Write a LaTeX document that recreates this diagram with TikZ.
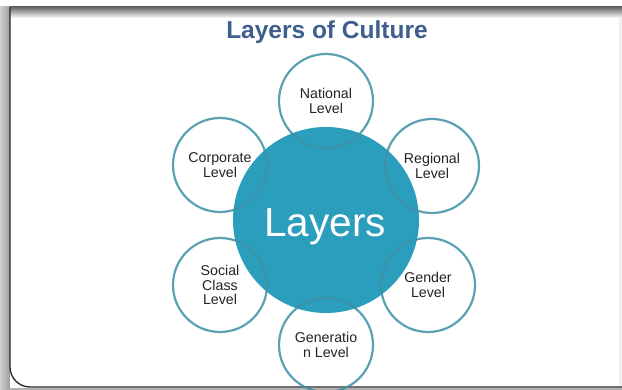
\documentclass[tikz,border=0pt]{standalone}
\usepackage{fontspec}
\setmainfont{Liberation Sans}
\definecolor{titleblue}{RGB}{62,95,142}
\definecolor{corefill}{RGB}{44,158,189}
\definecolor{ringline}{RGB}{62,145,166}
\definecolor{txtgray}{RGB}{35,35,35}
\begin{document}
\begin{tikzpicture}[x=1pt,y=-1pt,
  bubble/.style={circle, draw=ringline, draw opacity=0.85, line width=2.2pt,
    minimum size=94pt, inner sep=0pt, align=center, text=txtgray,
    font=\fontsize{14.2}{14.6}\selectfont},
  core/.style={circle, fill=corefill, minimum size=186pt, inner sep=0pt},
  frameline/.style={line width=1.3pt, black!85}]
\useasboundingbox (0,0) rectangle (622,390);
\fill[white] (0,0) rectangle (622,390);
% slide frame and its shadows
\shade[left color=black!18, right color=black!38] (0,7) rectangle (9.5,390);
\fill[black!30] (9,388) rectangle (622,390);
\shade[top color=black!60, bottom color=white] (10,7) rectangle (622,18);
\fill[black!6] (619,18) rectangle (622,387);
\draw[frameline, rounded corners=20pt] (10,7) -- (10,387) -- (622,387);
% heading
\node[anchor=base, text=titleblue, font=\bfseries\fontsize{24.5}{28}\selectfont]
  (title) at (327,38.5) {Layers of Culture};
% central disc
\node[core] (core) at (326,220) {};
\node[anchor=base, text=white, font=\fontsize{40.5}{44}\selectfont]
  (corelabel) at (325,237) {Layers};
% surrounding levels
\node[bubble] (national)   at (326,101) {National\\Level};
\node[bubble] (corporate)  at (220,165) {Corporate\\Level};
\node[bubble] (regional)   at (432,166) {Regional\\Level};
\node[bubble] (social)     at (220,285) {Social\\Class\\Level};
\node[bubble] (gender)     at (428,285) {Gender\\Level};
\node[bubble] (generation) at (326,345) {Generatio\\n Level};
\end{tikzpicture}
\end{document}
